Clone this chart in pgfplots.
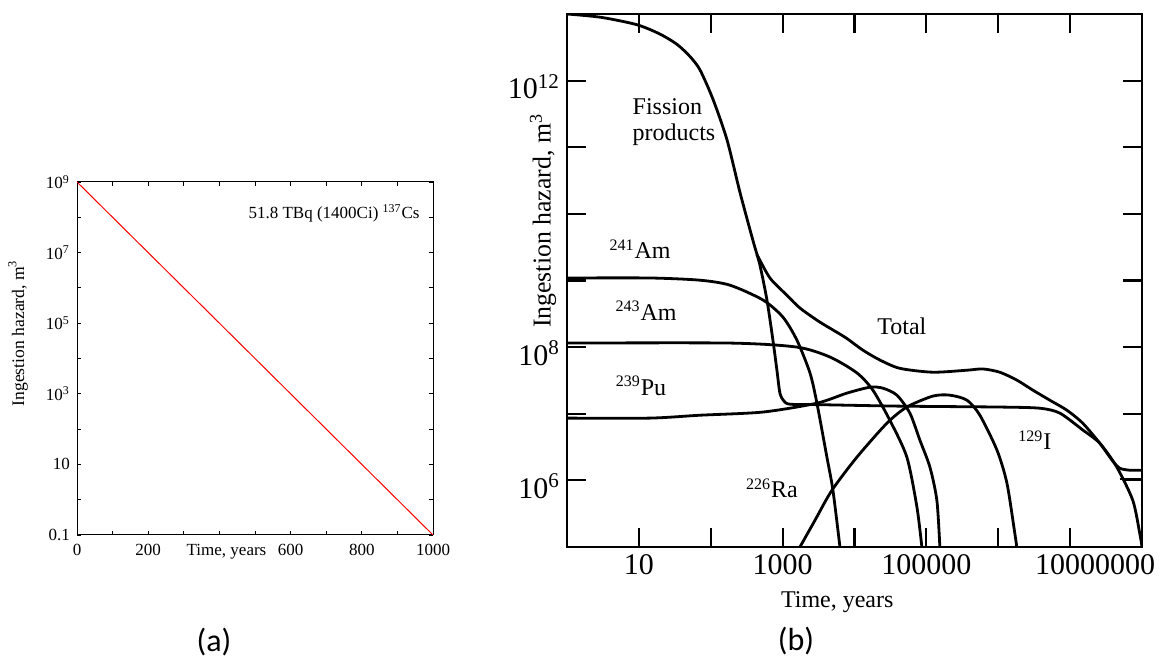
\documentclass[border=0pt]{standalone}
\usepackage{fontspec}
\setmainfont{Liberation Serif}
\newfontfamily\capfont{Carlito}
\usepackage{pgfplots}
\pgfplotsset{compat=1.18}

\begin{document}
\begin{tikzpicture}
\path[use as bounding box] (0pt,0pt) rectangle (580.5pt,331pt);

% (a) 137Cs decay
\begin{axis}[
  at={(38.5pt,63.5pt)}, anchor=south west,
  scale only axis, width=178pt, height=176.5pt,
  clip mode=individual,
  ymode=log,
  xmin=0, xmax=1000, ymin=0.1, ymax=1e9,
  xtick={0,100,200,300,400,500,600,700,800,900,1000},
  xticklabels={0,,200,,,,600,,800,,1000},
  ytick={0.1,1,10,100,1000,1e4,1e5,1e6,1e7,1e8,1e9},
  yticklabels={0.1,,10,,10\textsuperscript{3},,10\textsuperscript{5},,10\textsuperscript{7},,10\textsuperscript{9}},
  xminorticks=false, yminorticks=false,
  tick align=inside, major tick length=2pt,
  axis line style={line width=0.5pt},
  tick style={line width=0.4pt,black},
  tick label style={font=\fontsize{8.5}{10}\selectfont},
  xticklabel style={yshift=-1pt},
]
\addplot[red, line width=0.5pt, mark=none] coordinates {(0,1e9) (1000,0.1)};
\node[font=\fontsize{8.5}{10}\selectfont] at (axis cs:722,1.3e8) {51.8 TBq (1400Ci) \textsuperscript{137}Cs};
\node[font=\fontsize{8.5}{10}\selectfont, anchor=north, yshift=-1pt] at (rel axis cs:0.42,0) {Time, years};
\node[font=\fontsize{8.8}{10}\selectfont, xshift=-29.5pt, rotate=90] at (rel axis cs:0,0.572) {Ingestion hazard, m\textsuperscript{3}};
\end{axis}

% (b) spent fuel components
\begin{axis}[
  at={(283.5pt,57.5pt)}, anchor=south west,
  scale only axis, width=287.5pt, height=266.5pt,
  clip mode=individual,
  xmode=log, ymode=log,
  xmin=1, xmax=1e8, ymin=1e5, ymax=1e13,
  xtick={10,100,1000,1e4,1e5,1e6,1e7},
  xticklabels={10,,1000,,100000,,\hspace*{25pt}10000000},
  ytick={1e6,1e7,1e8,1e9,1e10,1e11,1e12},
  yticklabels={10\textsuperscript{6},,10\textsuperscript{8},,,,10\textsuperscript{12}},
  xminorticks=false, yminorticks=false,
  tick align=inside, major tick length=9.5pt,
  axis line style={line width=1.3pt},
  tick style={line width=1.1pt, black},
  tick label style={font=\fontsize{15}{18}\selectfont},
  yticklabel style={yshift=-3pt},
  every axis plot post/.append style={black, solid, mark=none, line width=1.4pt, smooth, tension=0.45},
]
% fission products, tail = 129I
\addplot coordinates {(1,1e13) (3,8.9e12) (9.4,6.9e12) (19.6,5.0e12) (33.9,3.5e12) (51.4,2.3e12) (70.8,1.45e12) (107,5.3e11) (168,1.3e11) (255,2.1e10) (386,4.0e9) (483,1.7e9) (605,5.1e8) (733,1.27e8) (833,4.5e7) (917,2.04e7) (1042,1.55e7) (1264,1.39e7) (3000,1.37e7) (42800,1.3e7) (1.05e6,1.26e7) (3.79e6,1.21e7) (7.2e6,1.02e7) (1.5e7,5.7e6) (2.59e7,3.6e6) (4.46e7,1.58e6) (7.45e7,5.0e5) (9.3e7,1.6e5) (1e8,1e5)};
% total
\addplot coordinates {(439,2.45e9) (666,1.09e9) (1148,6.0e8) (1741,3.86e8) (3305,2.37e8) (7350,1.41e8) (13090,9.0e7) (22550,6.4e7) (42800,4.8e7) (1.23e5,4.2e7) (3.66e5,4.5e7) (6.1e5,4.7e7) (1.05e6,4.2e7) (1.81e6,3.2e7) (3.03e6,2.26e7) (5.2e6,1.6e7) (9.0e6,1.13e7) (1.5e7,7.2e6) (2.59e7,3.6e6) (3.93e7,1.94e6) (4.91e7,1.52e6) (6.76e7,1.42e6) (1e8,1.42e6)};
% 241Am
\addplot coordinates {(1,1.09e9) (14.3,1.09e9) (70.8,1.01e9) (185,8.5e8) (532,5.1e8) (1009,2.82e8) (1581,1.27e8) (2400,4.1e7) (3000,1.44e7) (4130,2.23e6) (5010,7.1e5) (6270,1e5)};
% 243Am
\addplot coordinates {(1,1.15e8) (185,1.15e8) (1581,1.0e8) (4550,7.1e7) (10800,4.1e7) (18000,2.26e7) (31000,8.0e6) (53500,2.23e6) (73800,4.0e5) (86500,1e5)};
% 239Pu
\addplot coordinates {(1,8.6e6) (14.3,8.6e6) (70.8,9.5e6) (532,1.06e7) (3000,1.44e7) (7840,2.04e7) (16400,2.5e7) (24800,2.42e7) (38900,1.9e7) (59000,1.02e7) (81300,4.0e6) (1.12e5,1.58e6) (1.40e5,5.0e5) (1.54e5,1e5)};
% 226Ra
\addplot coordinates {(1741,1e5) (2810,2.5e5) (4850,7.1e5) (10800,2.23e6) (28200,7.2e6) (53500,1.26e7) (1.23e5,1.84e7) (2.12e5,1.9e7) (3.66e5,1.6e7) (5.55e5,9.5e6) (9.6e5,2.84e6) (1.32e6,9.1e5) (1.70e6,1.6e5) (1.81e6,1e5)};
\addplot[line width=0.8pt, sharp plot] coordinates {(4.9e7,1.05e6) (1e8,1.05e6)};

\begin{scope}[every node/.style={font=\fontsize{12}{13}\selectfont}]
\node[align=left] at (axis cs:30.8,2.39e11) {Fission\\products};
\node at (axis cs:10.4,2.96e9) {\textsuperscript{241}Am};
\node at (axis cs:12.6,3.5e8) {\textsuperscript{243}Am};
\node at (axis cs:10.7,2.6e7) {\textsuperscript{239}Pu};
\node at (axis cs:710,7.6e5) {\textsuperscript{226}Ra};
\node at (axis cs:45600,2.07e8) {Total};
\node at (axis cs:3.23e6,4.0e6) {\textsuperscript{129}I};
\end{scope}
\node[font=\fontsize{12}{14}\selectfont, yshift=-27.5pt] at (rel axis cs:0.47,0) {Time, years};
\node[font=\fontsize{12.9}{15}\selectfont, xshift=-12pt, rotate=90] at (rel axis cs:0,0.612) {Ingestion hazard, m\textsuperscript{3}};
\end{axis}

\node[font=\capfont\fontsize{16}{19}\selectfont] at (107pt,10pt) {(a)};
\node[font=\capfont\fontsize{16}{19}\selectfont] at (398pt,10.5pt) {(b)};
\end{tikzpicture}
\end{document}
